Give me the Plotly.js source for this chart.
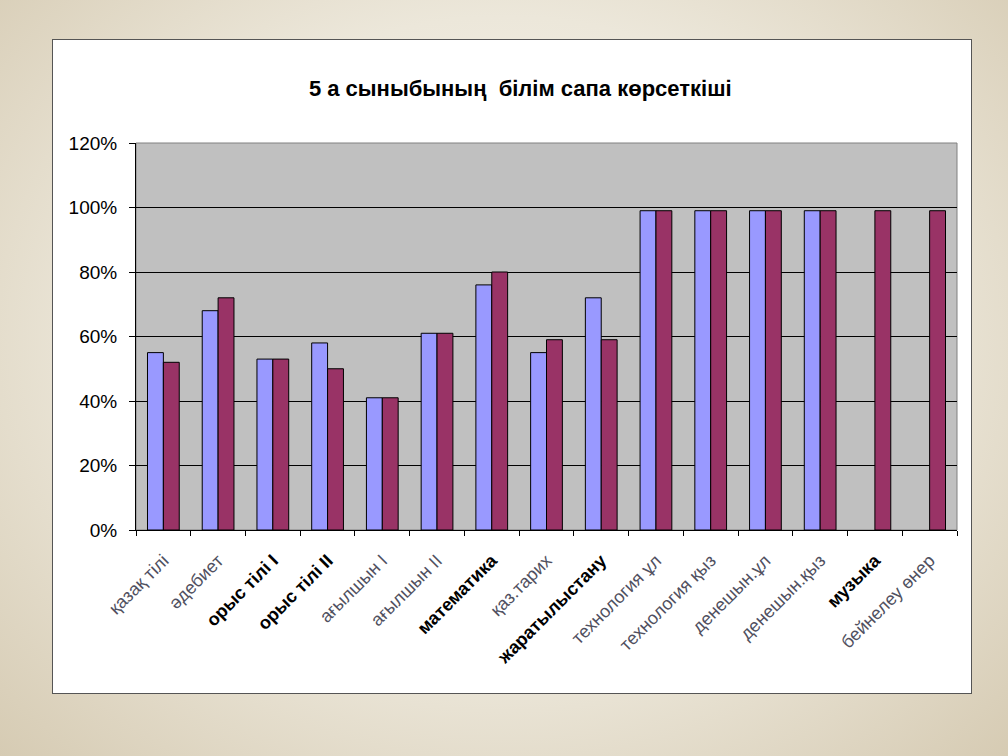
<!DOCTYPE html>
<html>
<head>
<meta charset="utf-8">
<script src="https://cdn.plot.ly/plotly-3.0.1.min.js"></script>
<style>
  html, body { margin: 0; padding: 0; }
  body {
    width: 1008px; height: 756px; overflow: hidden; position: relative;
    background: radial-gradient(ellipse at 50% 45%, #faf8f2 0%, #ece7da 55%, #d6cbb3 100%);
  }
  #box {
    position: absolute; left: 52px; top: 39px;
    border: 1px solid #555; background: #fff;
  }
</style>
</head>
<body>
<div id="box"><div id="myPlot"></div></div>
<script>
// subjects (bold ones are drawn black and bold, like the original)
var subjects = ["қазақ тілі", "әдебиет", "орыс тілі I", "орыс тілі II", "ағылшын І",
  "ағылшын ІІ", "математика", "қаз.тарих", "жаратылыстану", "технология ұл",
  "технология қыз", "денешын.ұл", "денешын.қыз", "музыка", "бейнелеу өнер"];
var boldSubj = [false, false, true, true, false, false, true, false, true,
  false, false, false, false, true, false];

// two series, shares (1 = 100%)
var series1 = [0.55, 0.68, 0.53, 0.58, 0.41, 0.61, 0.76, 0.55, 0.72, 0.99, 0.99, 0.99, 0.99, null, null];
var series2 = [0.52, 0.72, 0.53, 0.50, 0.41, 0.61, 0.80, 0.59, 0.59, 0.99, 0.99, 0.99, 0.99, 0.99, 0.99];

var yTicks = [0, 0.2, 0.4, 0.6, 0.8, 1.0, 1.2];

var tickText = subjects.map(function (s, i) {
  return boldSubj[i] ? "<b>" + s + "</b>" : '<span style="color:#505060">' + s + "</span>";
});

var data = [
  {x: subjects, y: series1, type: "bar", name: "1",
   marker: {color: "#9999FF", line: {color: "#000", width: 1}}},
  {x: subjects, y: series2, type: "bar", name: "2",
   marker: {color: "#993366", line: {color: "#000", width: 1}}}
];

var layout = {
  width: 918, height: 653,
  margin: {l: 83, r: 14, t: 103, b: 163},
  paper_bgcolor: "#fff",
  plot_bgcolor: "#C0C0C0",
  showlegend: false,
  barmode: "group",
  bargap: 0.42,
  bargroupgap: 0,
  font: {family: "Liberation Sans, Arial, sans-serif", color: "#000", size: 14},
  title: {text: "<b>5 а сыныбының  білім сапа көрсеткіші</b>",
          font: {size: 22, color: "#000"}, x: 0.509, xanchor: "center", y: 0.926, yanchor: "middle"},
  xaxis: {
    type: "category", tickvals: subjects, ticktext: tickText, tickangle: -45,
    tickfont: {size: 18, color: "#000"}, ticklabelstandoff: 12,
    ticks: "outside", tickson: "boundaries", ticklen: 5, tickcolor: "#000",
    showline: true, linecolor: "#000", linewidth: 1, showgrid: false
  },
  yaxis: {
    range: [0, 1.2], tickvals: yTicks, tickformat: ".0%",
    ticks: "outside", ticklen: 6, tickcolor: "#000", ticklabelstandoff: 8,
    showline: true, linecolor: "#000", linewidth: 1,
    showgrid: true, gridcolor: "#000", gridwidth: 1, zeroline: false,
    tickfont: {size: 19, color: "#000"}
  },
  shapes: [
    {type: "rect", xref: "paper", yref: "paper", x0: 0, x1: 1, y0: 0, y1: 1,
     line: {color: "#808080", width: 1}, layer: "below"}
  ]
};

Plotly.newPlot("myPlot", data, layout, {displayModeBar: false, staticPlot: true});
</script>
</body>
</html>
